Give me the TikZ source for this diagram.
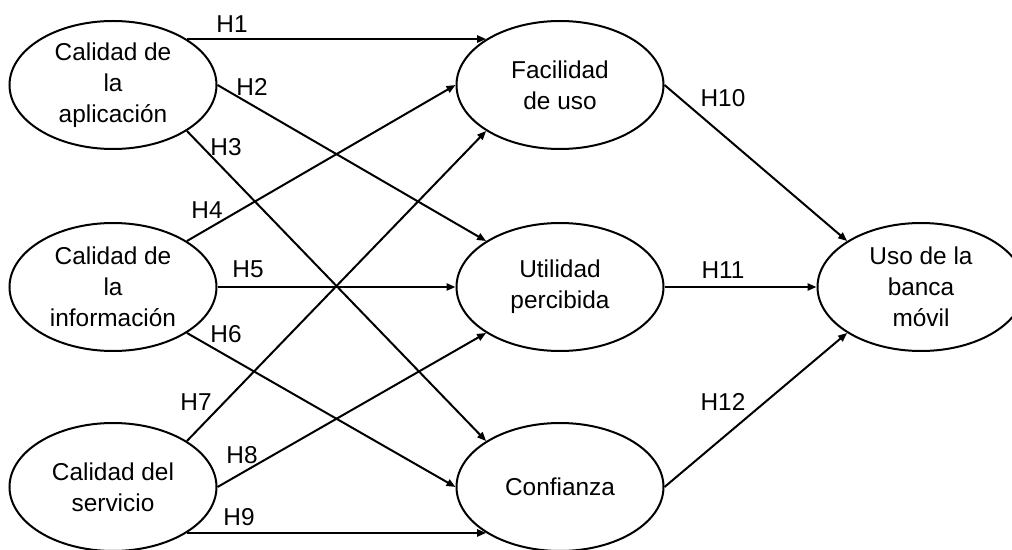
\documentclass[tikz,border=0pt]{standalone}
\usepackage{fontspec}
\setmainfont{Liberation Sans}
\usetikzlibrary{arrows.meta,shapes.geometric}
\begin{document}
\begin{tikzpicture}[x=0.5pt,y=-0.5pt,
  construct/.style={draw, ellipse, line width=1pt, minimum width=103.5pt,
    minimum height=64pt, inner sep=0pt, align=center,
    font=\fontsize{12.2}{15.5}\selectfont},
  link/.style={line width=1pt, -{Triangle[length=4.5pt,width=3.6pt]}},
  hyp/.style={inner sep=0pt, font=\fontsize{12.2}{14}\selectfont}
]
\fill[white] (0,0) rectangle (1012,550);
\useasboundingbox (0,0) rectangle (1012,550);

% exogenous constructs
\node[construct] (app)  at (113,85)  {Calidad de\\la\\aplicación};
\node[construct] (info) at (113,287) {Calidad de\\la\\información};
\node[construct] (serv) at (113,487) {Calidad del\\servicio};

% mediating constructs
\node[construct] (fac)  at (560,85)  {Facilidad\\de uso};
\node[construct] (util) at (560,287) {Utilidad\\percibida};
\node[construct] (conf) at (560,487) {Confianza};

% outcome
\node[construct] (uso)  at (921,287) {Uso de la\\banca\\móvil};

% hypothesised paths
\draw[link] (app.north east)  -- (fac.north west);
\draw[link] (app.east)        -- (util.north west);
\draw[link] (app.south east)  -- (conf.north west);
\draw[link] (info.north east) -- (fac.west);
\draw[link] (info.east)       -- (util.west);
\draw[link] (info.south east) -- (conf.west);
\draw[link] (serv.north east) -- (fac.south west);
\draw[link] (serv.east)       -- (util.south west);
\draw[link] (serv.south east) -- (conf.south west);
\draw[link] (fac.east)        -- (uso.north west);
\draw[link] (util.east)       -- (uso.west);
\draw[link] (conf.east)       -- (uso.south west);

% path labels
\node[hyp] (h1)  at (232,24)  {H1};
\node[hyp] (h2)  at (252,87)  {H2};
\node[hyp] (h3)  at (226,147) {H3};
\node[hyp] (h4)  at (207,210) {H4};
\node[hyp] (h5)  at (248,269) {H5};
\node[hyp] (h6)  at (226,334) {H6};
\node[hyp] (h7)  at (196,402) {H7};
\node[hyp] (h8)  at (242,455) {H8};
\node[hyp] (h9)  at (239,517) {H9};
\node[hyp] (h10) at (723,98)  {H10};
\node[hyp] (h11) at (723,270) {H11};
\node[hyp] (h12) at (723,402) {H12};
\end{tikzpicture}
\end{document}
